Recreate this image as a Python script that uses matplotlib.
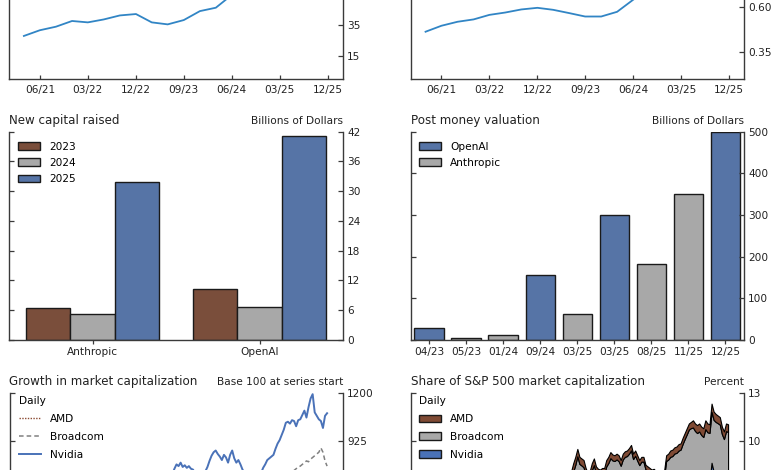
import numpy as np
import pandas as pd
import matplotlib
matplotlib.use("Agg")
import matplotlib.pyplot as plt
import matplotlib.dates as mdates
from matplotlib.patches import Patch
from matplotlib.lines import Line2D

# ---------------------------------------------------------------
# Data (top and bottom rows are cropped)
# ---------------------------------------------------------------
# Top row: quarterly series, only the lower part is visible
q_dates = pd.date_range("2021-03-31", "2025-09-30", freq="QE")
top_left_vals = [27.9, 31.6, 33.9, 37.6, 36.7, 38.6, 41.2, 42.1, 36.7, 35.4,
                 38.2, 44.0, 46.2, 54.5, 62, 70, 78, 85, 95]
top_right_vals = [0.461, 0.494, 0.516, 0.529, 0.554, 0.567, 0.584, 0.593, 0.582,
                  0.564, 0.545, 0.545, 0.571, 0.637, 0.70, 0.77, 0.84, 0.90, 0.97]

# New capital raised (billions of dollars)
firms = ["Anthropic", "OpenAI"]
years = ["2023", "2024", "2025"]
raised_2023 = [6.5, 10.3]
raised_2024 = [5.2, 6.6]
raised_2025 = [31.8, 41.2]

# Post money valuation (billions of dollars)
val_labels = ["04/23", "05/23", "01/24", "09/24", "03/25", "03/25", "08/25", "11/25", "12/25"]
val_firm = ["OpenAI", "Anthropic", "Anthropic", "OpenAI", "Anthropic", "OpenAI",
            "Anthropic", "Anthropic", "OpenAI"]
val_amount = [28, 4, 11, 157, 61.5, 300, 183, 350, 500]

# Bottom row: monthly points early on, weekly points from June 2024
early_dates = pd.date_range("2023-01-01", periods=17, freq="MS")
weekly_dates = pd.date_range("2024-06-07", "2025-12-12", freq="W-FRI")
daily_dates = early_dates.append(weekly_dates)

# Growth in market capitalization (base 100)
nvda_growth = [100, 120, 145, 170, 170, 250, 280, 290, 300, 275, 255, 295, 310, 380, 490, 560, 600,
               720, 730, 710, 740, 735, 765, 790, 780, 800, 775,
               785, 770, 780, 765, 760, 740, 720, 700, 720, 740,
               750, 775, 810, 840, 860, 870, 850, 835, 815, 845,
               830, 800, 845, 870, 825, 800, 815, 790, 760, 740,
               700, 680, 650, 640, 620, 680, 700, 740, 770, 790,
               815, 825, 835, 845, 880, 910, 930, 960, 990, 1030,
               1036, 1025, 1045, 1040, 1010, 1045, 1050, 1075, 1100, 1060,
               1120, 1170, 1195, 1090, 1070, 1050, 1040, 1000, 1070, 1085]
avgo_growth = [100, 105, 115, 120, 140, 170, 175, 175, 165, 165, 190, 215, 235, 265, 265, 255, 285,
               310, 320, 330, 325, 340, 330, 320, 310, 300, 305,
               320, 330, 335, 340, 345, 330, 345, 350, 360, 365,
               370, 380, 400, 395, 380, 420, 470, 460, 440, 430,
               450, 440, 420, 405, 400, 420, 400, 390, 380, 350,
               330, 300, 280, 290, 320, 350, 360, 380, 400, 430,
               450, 480, 500, 520, 530, 540, 560, 600, 620, 640,
               700, 730, 745, 755, 765, 775, 780, 790, 800, 810,
               805, 820, 830, 840, 850, 860, 885, 860, 810, 780]
amd_growth = [100, 105, 95, 90, 115, 135, 140, 125, 120, 110, 125, 170, 190, 215, 215, 185, 190,
              200, 195, 190, 205, 215, 210, 180, 175, 170, 180,
              185, 190, 195, 190, 180, 175, 165, 160, 165, 170,
              175, 165, 160, 155, 150, 150, 155, 150, 150, 145,
              145, 140, 135, 135, 130, 130, 125, 115, 110, 100,
              95, 90, 90, 95, 105, 110, 115, 125, 135, 140,
              150, 170, 170, 165, 170, 175, 165, 160, 155, 160,
              160, 165, 200, 210, 230, 330, 340, 370, 390, 400,
              390, 380, 370, 340, 330, 320, 315, 330, 335, 340]

# Share of S&P 500 market capitalization (percent): stack top, Broadcom, AMD
share_total = [2.3, 2.6, 2.9, 3.0, 4.1, 4.4, 4.5, 4.45, 4.2, 4.1, 4.5, 4.8, 5.4, 6.3, 6.8, 6.5, 7.5,
               7.6, 7.8, 7.9, 8.1, 8.6, 9.0, 9.5, 9.0, 8.9, 8.8,
               8.3, 8.0, 8.1, 8.6, 8.9, 8.4, 8.25, 8.2, 8.3, 8.3,
               8.8, 9.0, 9.3, 9.15, 9.1, 9.2, 9.1, 8.8, 9.2, 9.35,
               9.4, 9.55, 9.75, 9.2, 9.4, 9.1, 8.8, 9.0, 9.0, 8.5,
               8.4, 8.3, 8.2, 8.25, 8.1, 8.15, 8.0, 8.05, 8.1, 9.1,
               9.2, 9.4, 9.45, 9.6, 9.65, 9.8, 9.85, 10.2, 10.5, 10.8,
               11.1, 11.2, 11.3, 11.1, 11.0, 11.1, 10.9, 10.8, 11.3, 11.1,
               11.05, 12.35, 11.85, 11.7, 11.6, 11.5, 10.9, 10.6, 11.1, 11.05]
share_avgo = [0.7, 0.7, 0.8, 0.8, 1.0, 1.0, 1.0, 1.0, 0.9, 0.9, 1.0, 1.2, 1.3, 1.4, 1.4, 1.4, 1.4,
              1.50, 1.55, 1.55, 1.60, 1.75, 1.80, 1.75, 1.70, 1.65, 1.65,
              1.60, 1.55, 1.60, 1.70, 1.70, 1.65, 1.65, 1.65, 1.70, 1.70,
              1.75, 1.80, 1.85, 1.85, 1.85, 1.95, 2.30, 2.35, 2.30, 2.30,
              2.40, 2.40, 2.35, 2.20, 2.20, 2.10, 2.00, 2.00, 2.00, 1.90,
              1.85, 1.80, 1.75, 1.80, 1.80, 1.85, 1.90, 2.00, 2.05, 2.20,
              2.30, 2.35, 2.40, 2.45, 2.50, 2.55, 2.55, 2.60, 2.70, 2.80,
              2.90, 2.95, 2.95, 2.90, 2.90, 2.95, 3.00, 3.00, 3.10, 3.05,
              3.05, 3.20, 3.25, 3.15, 3.05, 3.05, 3.00, 2.90, 3.00, 3.00]
share_amd = [0.5, 0.5, 0.4, 0.4, 0.5, 0.5, 0.5, 0.45, 0.4, 0.4, 0.5, 0.6, 0.7, 0.7, 0.7, 0.6, 0.6,
             0.50, 0.50, 0.48, 0.50, 0.52, 0.50, 0.46, 0.44, 0.44, 0.45,
             0.44, 0.44, 0.45, 0.44, 0.42, 0.42, 0.40, 0.40, 0.40, 0.40,
             0.40, 0.39, 0.38, 0.37, 0.36, 0.36, 0.37, 0.36, 0.36, 0.35,
             0.35, 0.35, 0.34, 0.34, 0.33, 0.33, 0.32, 0.30, 0.30, 0.28,
             0.28, 0.27, 0.27, 0.28, 0.30, 0.31, 0.32, 0.33, 0.35, 0.36,
             0.37, 0.40, 0.40, 0.39, 0.40, 0.41, 0.39, 0.38, 0.37, 0.38,
             0.38, 0.39, 0.45, 0.47, 0.50, 0.50, 0.52, 0.55, 0.55, 0.55,
             0.54, 0.52, 0.52, 0.50, 0.48, 0.47, 0.46, 0.48, 0.48, 0.48]

# ---------------------------------------------------------------
# Styling
# ---------------------------------------------------------------
W, H = 780, 470
BROWN = "#7a4e3b"
GRAY = "#a8a8a8"
BLUE = "#5674a6"
LINE_BLUE = "#3185c5"
NV_BLUE = "#4a72b8"
SPINE = "#3a3a3a"
TXT = "#222222"
FS_TITLE = 8.6
FS_SMALL = 7.6

plt.rcParams["font.family"] = ["DejaVu Sans"]


def px_rect(l, t, r, b):
    # pixel box (top-left origin) -> figure fraction
    return [l / W, (H - b) / H, (r - l) / W, (b - t) / H]


def style(ax, xdir="in", left_ticks=True):
    ax.spines["top"].set_visible(False)
    for s in ("left", "right", "bottom"):
        ax.spines[s].set_color(SPINE)
        ax.spines[s].set_linewidth(1.0)
    ax.tick_params(axis="y", left=left_ticks, right=True, labelleft=False, labelright=True,
                   direction="in", length=3.5, width=0.9, pad=3, labelsize=FS_SMALL,
                   colors=SPINE, labelcolor=TXT)
    ax.tick_params(axis="x", top=False, direction=xdir, length=3, width=0.9, pad=4,
                   labelsize=FS_SMALL, colors=SPINE, labelcolor=TXT)


def headers(left_px, right_px, y_px, title, unit):
    fig.text(left_px / W, 1 - y_px / H, title, ha="left", va="center", fontsize=FS_TITLE, color=TXT)
    fig.text(right_px / W, 1 - y_px / H, unit, ha="right", va="center", fontsize=FS_SMALL, color=TXT)


fig = plt.figure(figsize=(7.8, 4.7), dpi=100)

L1, R1 = 9, 343
L2, R2 = 410.7, 744

# ---------------- top row (cropped, only visible ticks kept) ----------------
top_ticks = pd.to_datetime(["2021-06-30", "2022-03-31", "2022-12-31", "2023-09-30",
                            "2024-06-30", "2025-03-31", "2025-12-31"])
top_xlim = (pd.Timestamp("2021-01-05"), pd.Timestamp("2026-03-27"))

ax = fig.add_axes(px_rect(L1, -129.3, R1, 79))
ax.plot(q_dates, top_left_vals, color=LINE_BLUE, lw=1.3)
ax.set_ylim(0, 135)
ax.set_yticks([15, 35])
ax.set_xlim(*top_xlim)
ax.set_xticks(top_ticks)
ax.xaxis.set_major_formatter(mdates.DateFormatter("%m/%y"))
style(ax, left_ticks=False)

ax = fig.add_axes(px_rect(L2, -129.3, R2, 79))
ax.plot(q_dates, top_right_vals, color=LINE_BLUE, lw=1.3)
ax.set_ylim(0.2, 1.35)
ax.set_yticks([0.35, 0.60])
ax.yaxis.set_major_formatter(matplotlib.ticker.FormatStrFormatter("%.2f"))
ax.set_xlim(*top_xlim)
ax.set_xticks(top_ticks)
ax.xaxis.set_major_formatter(mdates.DateFormatter("%m/%y"))
style(ax, left_ticks=False)

# ---------------- middle left: new capital raised ----------------
ax = fig.add_axes(px_rect(L1, 131.7, R1, 340))
x = np.arange(len(firms))
w = 0.8 / 3
for i, (vals, col) in enumerate(zip([raised_2023, raised_2024, raised_2025], [BROWN, GRAY, BLUE])):
    ax.bar(x + (i - 1) * w, vals, width=w, color=col, edgecolor="#1a1a1a", linewidth=1.0,
           label=years[i])
ax.set_xlim(-0.5, 1.5)
ax.set_ylim(0, 42)
ax.set_yticks(np.arange(0, 43, 6))
ax.set_xticks(x)
ax.set_xticklabels(firms)
style(ax, xdir="out")
ax.tick_params(axis="x", pad=2)
ax.legend(loc="upper left", bbox_to_anchor=(18.3 / W, 1 - 141.5 / H), bbox_transform=fig.transFigure,
          frameon=False, fontsize=FS_SMALL, handlelength=2.1, handleheight=0.7, handletextpad=0.8,
          labelspacing=0.6, borderpad=0, borderaxespad=0)
headers(L1, R1, 120.7, "New capital raised", "Billions of Dollars")

# ---------------- middle right: post money valuation ----------------
ax = fig.add_axes(px_rect(L2, 131.7, R2, 340))
xv = np.arange(len(val_labels))
cols = [BLUE if f == "OpenAI" else GRAY for f in val_firm]
ax.bar(xv, val_amount, width=0.8, color=cols, edgecolor="#1a1a1a", linewidth=1.0)
ax.set_xlim(-0.5, len(val_labels) - 0.5)
ax.set_ylim(0, 500)
ax.set_yticks(np.arange(0, 501, 100))
ax.set_xticks(xv)
ax.set_xticklabels(val_labels)
style(ax, xdir="out")
ax.tick_params(axis="x", pad=2)
handles = [Patch(facecolor=BLUE, edgecolor="#1a1a1a", linewidth=1.0),
           Patch(facecolor=GRAY, edgecolor="#1a1a1a", linewidth=1.0)]
ax.legend(handles, ["OpenAI", "Anthropic"], loc="upper left",
          bbox_to_anchor=(419.3 / W, 1 - 141.5 / H), bbox_transform=fig.transFigure,
          frameon=False, fontsize=FS_SMALL, handlelength=2.1, handleheight=0.7, handletextpad=0.8,
          labelspacing=0.6, borderpad=0, borderaxespad=0)
headers(L2, R2, 120.7, "Post money valuation", "Billions of Dollars")

# ---------------- bottom row (cropped, only visible ticks kept) ----------------
bot_xlim = (pd.Timestamp("2023-01-01"), pd.Timestamp("2026-02-04"))

ax = fig.add_axes(px_rect(10, 393.3, R1, 584))
ax.plot(daily_dates, amd_growth, color="#8b4a32", lw=1.0, ls=(0, (1, 1)))
ax.plot(daily_dates, avgo_growth, color="#808080", lw=1.1, ls=(0, (3, 2)))
ax.plot(daily_dates, nvda_growth, color=NV_BLUE, lw=1.4)
ax.set_ylim(100, 1200)
ax.set_yticks([925, 1200])
ax.set_xlim(*bot_xlim)
ax.set_xticks([])
style(ax)
handles = [Line2D([], [], color="#8b4a32", lw=1.0, ls=(0, (1, 1))),
           Line2D([], [], color="#808080", lw=1.1, ls=(0, (3, 2))),
           Line2D([], [], color=NV_BLUE, lw=1.4)]
ax.legend(handles, ["AMD", "Broadcom", "Nvidia"], title="Daily", loc="upper left",
          bbox_to_anchor=(19 / W, 1 - 396 / H), bbox_transform=fig.transFigure,
          frameon=False, fontsize=FS_SMALL, title_fontsize=FS_SMALL, alignment="left",
          handlelength=2.1, handletextpad=0.8, labelspacing=0.75, borderpad=0, borderaxespad=0)
headers(L1, R1, 381.7, "Growth in market capitalization", "Base 100 at series start")

ax = fig.add_axes(px_rect(L2, 393.3, R2, 584))
share_nvda = [t - a - m for t, a, m in zip(share_total, share_avgo, share_amd)]
ax.stackplot(daily_dates, share_nvda, share_avgo, share_amd,
             colors=[NV_BLUE, GRAY, "#7f4a34"], edgecolor="black", linewidth=0.8)
ax.set_ylim(1, 13)
ax.set_yticks([10, 13])
ax.set_xlim(*bot_xlim)
ax.set_xticks([])
style(ax)
handles = [Patch(facecolor="#7f4a34", edgecolor="#1a1a1a", linewidth=1.0),
           Patch(facecolor=GRAY, edgecolor="#1a1a1a", linewidth=1.0),
           Patch(facecolor=NV_BLUE, edgecolor="#1a1a1a", linewidth=1.0)]
ax.legend(handles, ["AMD", "Broadcom", "Nvidia"], title="Daily", loc="upper left",
          bbox_to_anchor=(419.3 / W, 1 - 396 / H), bbox_transform=fig.transFigure,
          frameon=False, fontsize=FS_SMALL, title_fontsize=FS_SMALL, alignment="left",
          handlelength=2.1, handleheight=0.7, handletextpad=0.8, labelspacing=0.75,
          borderpad=0, borderaxespad=0)
headers(L2, R2, 381.7, "Share of S&P 500 market capitalization", "Percent")

fig.savefig("out.png", dpi=100, facecolor="white")
